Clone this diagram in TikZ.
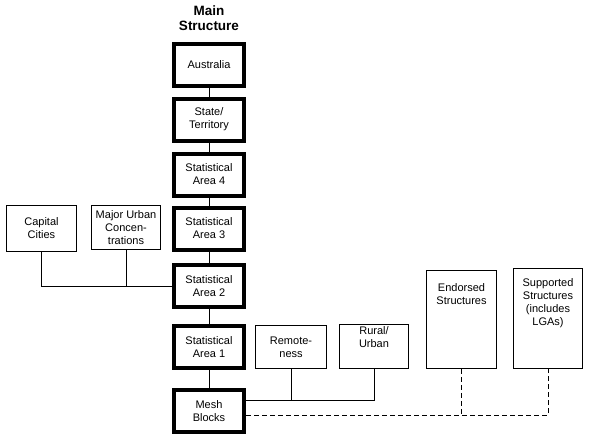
\documentclass[tikz,border=0pt]{standalone}
\usepackage{fontspec}
\setmainfont{Liberation Sans}
\usetikzlibrary{calc}

\begin{document}
\begin{tikzpicture}[x=1pt, y=-1pt, font=\fontsize{11}{13}\selectfont,
  mainbox/.style={draw, line width=4pt, minimum width=70pt, minimum height=42pt, align=center, inner sep=1pt},
  sidebox/.style={draw, line width=0.9pt, align=center, inner sep=1pt},
  toplabel/.style={align=center, anchor=north, inner sep=0pt},
  link/.style={line width=0.9pt},
  dashlink/.style={line width=0.9pt, dash pattern=on 5pt off 3pt}]
  \useasboundingbox (0,0) rectangle (591,440);
  \node[font=\fontsize{13.5}{15}\selectfont\bfseries, align=center] (title) at (209,18) {Main\\Structure};
  % main chain
  \foreach \y/\name/\txt in {64.5/aus/{Australia}, 119.5/ste/{State/\\Territory}, 174.5/sa4/{Statistical\\Area 4},
      228.5/sa3/{Statistical\\Area 3}, 286/sa2/{Statistical\\Area 2}, 347/sa1/{Statistical\\Area 1}, 411/mb/{Mesh\\Blocks}}{
    \node[mainbox] (\name) at (209,\y) {\txt};
  }
  \foreach \a/\b in {aus/ste, ste/sa4, sa4/sa3, sa3/sa2, sa2/sa1, sa1/mb}
    \draw[link] (\a) -- (\b);
  % side structures
  \node[sidebox, minimum width=70pt, minimum height=46pt] (cap) at (41.5,228.5) {Capital\\Cities};
  \node[sidebox, minimum width=69pt, minimum height=44pt] (maj) at (126,227.5) {Major Urban\\Concen-\\trations};
  \node[sidebox, minimum width=71pt, minimum height=43pt] (rem) at (291,347) {Remote-\\ness};
  \node[sidebox, minimum width=69pt, minimum height=44pt,
    label={[toplabel, yshift=-2pt]north:{Rural/\\Urban}}] (rur) at (374,346.5) {};
  \node[sidebox, minimum width=70pt, minimum height=98pt,
    label={[toplabel, yshift=-13pt]north:{Endorsed\\Structures}}] (end) at (461.5,319.5) {};
  \node[sidebox, minimum width=69pt, minimum height=100pt,
    label={[toplabel, yshift=-10pt]north:{Supported\\Structures\\(includes\\LGAs)}}] (sup) at (548,318.5) {};
  % connectors
  \draw[link] (cap.south) |- (sa2.west);
  \draw[link] (maj.south) -- (maj.south |- sa2.west);
  \coordinate (mbsolid) at ([yshift=11pt]mb.east);
  \draw[link] (mbsolid) -| (rur.south);
  \draw[link] (rem.south) -- (rem.south |- mbsolid);
  \coordinate (mbdash) at ([yshift=-4pt]mb.east);
  \draw[dashlink] (mbdash) -| (sup.south);
  \draw[dashlink] (end.south) -- (end.south |- mbdash);
\end{tikzpicture}
\end{document}
